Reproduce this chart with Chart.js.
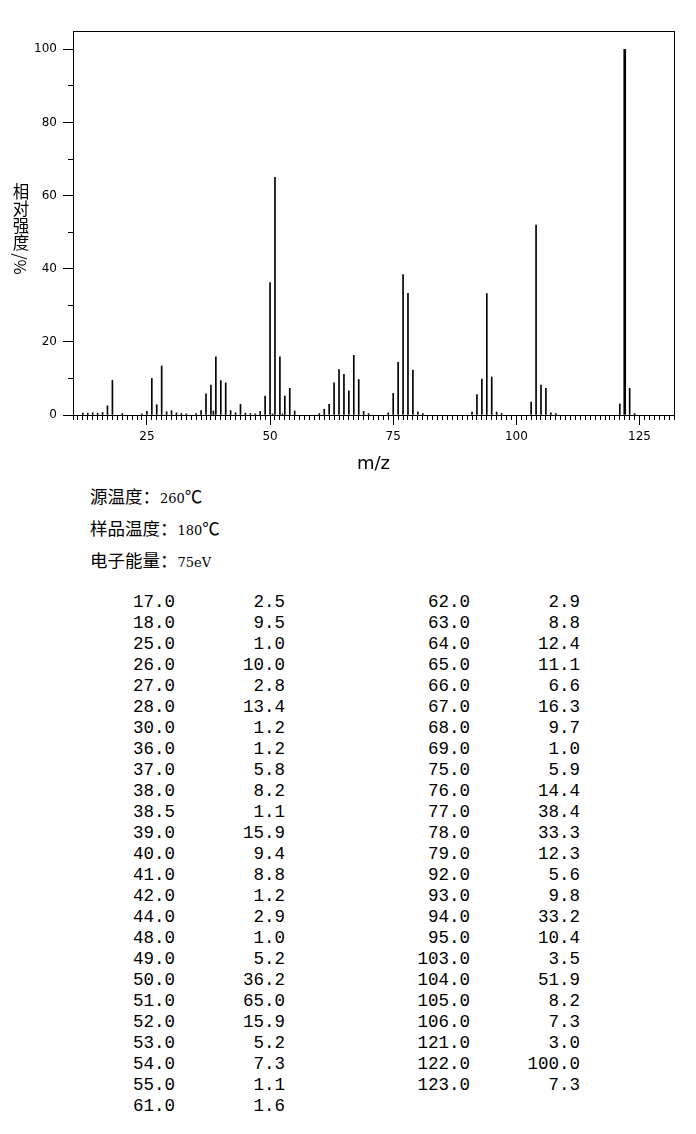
<!DOCTYPE html>
<html><head><meta charset="utf-8">
<script src="https://cdn.jsdelivr.net/npm/chart.js@4.4.0/dist/chart.umd.min.js"></script>
<style>
html,body{margin:0;padding:0;background:#fff;}
#wrap{position:relative;width:696px;height:1134px;overflow:hidden;background:#fff;}
#chartBox{position:absolute;left:0;top:0;width:696px;height:480px;}
#ytitle{position:absolute;left:11px;top:183px;width:20px;text-align:center;font-family:"Noto Sans CJK SC";font-size:16.5px;line-height:17px;color:#000;}
#ytitle .rot{position:absolute;left:-3px;top:72px;width:26px;height:18px;line-height:18px;text-align:center;transform:rotate(90deg);transform-origin:50% 50%;white-space:nowrap;}
.info{position:absolute;left:90px;line-height:22px;color:#000;white-space:nowrap;}
.info .cjk{font-family:"Noto Sans CJK SC";font-size:17.5px;}
.info .lat{font-family:"DejaVu Serif";font-size:13px;}
.cell{position:absolute;font-family:"Liberation Mono","Courier New",monospace;font-size:17.5px;line-height:21px;color:#000;text-align:right;white-space:nowrap;}
</style>
</head><body>
<div id="wrap">
  <div id="chartBox"><canvas id="c"></canvas></div>
  <div id="ytitle">相<br>对<br>强<br>度<span class="rot">/%</span></div>
  <div class="info" style="top:485px"><span class="cjk">源温度：</span><span class="lat">260</span><span class="cjk">℃</span></div>
  <div class="info" style="top:517px"><span class="cjk">样品温度：</span><span class="lat">180</span><span class="cjk">℃</span></div>
  <div class="info" style="top:549px"><span class="cjk">电子能量：</span><span class="lat">75eV</span></div>
  <div id="table"></div>
</div>
<script>
// Listed peaks (m/z, relative intensity %)
const mzValues = [17,18,25,26,27,28,30,36,37,38,38.5,39,40,41,42,44,48,49,50,51,52,53,54,55,61,
                  62,63,64,65,66,67,68,69,75,76,77,78,79,92,93,94,95,103,104,105,106,121,122,123];
const intensities = [2.5,9.5,1.0,10.0,2.8,13.4,1.2,1.2,5.8,8.2,1.1,15.9,9.4,8.8,1.2,2.9,1.0,5.2,36.2,65.0,15.9,5.2,7.3,1.1,1.6,
                     2.9,8.8,12.4,11.1,6.6,16.3,9.7,1.0,5.9,14.4,38.4,33.3,12.3,5.6,9.8,33.2,10.4,3.5,51.9,8.2,7.3,3.0,100.0,7.3];
// Small unlisted peaks
const minorMz = [12,13,14,15,16,20,24,29,31,32,33,35,43,45,46,47,50.5,52.5,60,70,74,80,81,91,96,97,107,108,124];
const minorIntensities = [0.5,0.5,0.6,0.5,0.7,0.4,0.3,0.9,0.6,0.4,0.3,0.4,0.6,0.5,0.4,0.3,0.3,0.3,0.4,0.4,0.6,0.9,0.4,0.8,0.8,0.4,0.6,0.4,0.4];
const leftRows = 25;

// table
const tbl = document.getElementById('table');
const colRight = [521, 411, 226, 116];
mzValues.forEach((m, i) => {
  const col = i < leftRows ? 0 : 1;
  const row = i < leftRows ? i : i - leftRows;
  const top = 592 + row * 21;
  const a = document.createElement('div');
  a.className = 'cell'; a.style.top = top + 'px'; a.style.right = colRight[col*2] + 'px';
  a.textContent = m.toFixed(1);
  const b = document.createElement('div');
  b.className = 'cell'; b.style.top = top + 'px'; b.style.right = colRight[col*2+1] + 'px';
  b.textContent = intensities[i].toFixed(1);
  tbl.appendChild(a); tbl.appendChild(b);
});

const basePeak = Math.max(...intensities);
const allPts = mzValues.map((m,i)=>({x:m, y:intensities[i]}))
  .concat(minorMz.map((m,i)=>({x:m, y:minorIntensities[i]})));
const normalPts = allPts.filter(p => p.y < basePeak);
const basePts = allPts.filter(p => p.y === basePeak);

Chart.defaults.font.family = 'DejaVu Sans';
Chart.defaults.color = '#000';

new Chart(document.getElementById('c'), {
  type: 'bar',
  data: {
    datasets: [
      {data: normalPts, backgroundColor: '#000', barThickness: 1, grouped: false},
      {data: basePts, backgroundColor: '#000', barThickness: 2, grouped: false}
    ]
  },
  options: {
    responsive: true, maintainAspectRatio: false, animation: false,
    layout: {padding: {left: 0, top: 31, right: 22, bottom: 0}},
    plugins: {legend: {display: false}, tooltip: {enabled: false}},
    scales: {
      x: {
        type: 'linear', position: 'bottom', min: 10, max: 132, offset: false,
        ticks: {stepSize: 25, includeBounds: false, autoSkip: false, maxRotation: 0, padding: 5, font: {size: 12}, color: '#000'},
        grid: {drawOnChartArea: false, offset: false, tickLength: 10, tickColor: '#000', tickWidth: 1},
        border: {display: true, color: '#000', width: 1},
        title: {display: true, text: 'm/z', font: {size: 18}, color: '#000', padding: {top: 0, bottom: 5}},
        afterFit: s => { s.height = 65; }
      },
      xMinor: {
        type: 'linear', axis: 'x', position: {y: 0}, min: 10, max: 132, offset: false,
        ticks: {display: false, stepSize: 1, includeBounds: false, autoSkip: false},
        grid: {drawOnChartArea: false, offset: false, tickLength: 5, tickColor: '#000', tickWidth: 1},
        border: {display: false}
      },
      xTop: {
        type: 'linear', axis: 'x', position: 'top', min: 10, max: 132,
        ticks: {display: false}, grid: {display: false, drawTicks: false},
        border: {display: true, color: '#000', width: 1}
      },
      y: {
        type: 'linear', position: 'left', min: 0, max: 105,
        ticks: {stepSize: 20, includeBounds: false, padding: 6, font: {size: 12}, color: '#000'},
        grid: {drawOnChartArea: false, tickLength: 10, tickColor: '#000', tickWidth: 1},
        border: {display: true, color: '#000', width: 1},
        afterFit: s => { s.width = 73; }
      },
      yMinor: {
        type: 'linear', axis: 'y', position: {x: 10}, min: 0, max: 105,
        ticks: {display: false, stepSize: 10, includeBounds: false},
        grid: {drawOnChartArea: false, tickLength: 5, tickColor: '#000', tickWidth: 1},
        border: {display: false}
      },
      yRight: {
        type: 'linear', axis: 'y', position: 'right', min: 0, max: 105,
        ticks: {display: false}, grid: {display: false, drawTicks: false},
        border: {display: true, color: '#000', width: 1}
      }
    }
  }
});
</script>
</body></html>
